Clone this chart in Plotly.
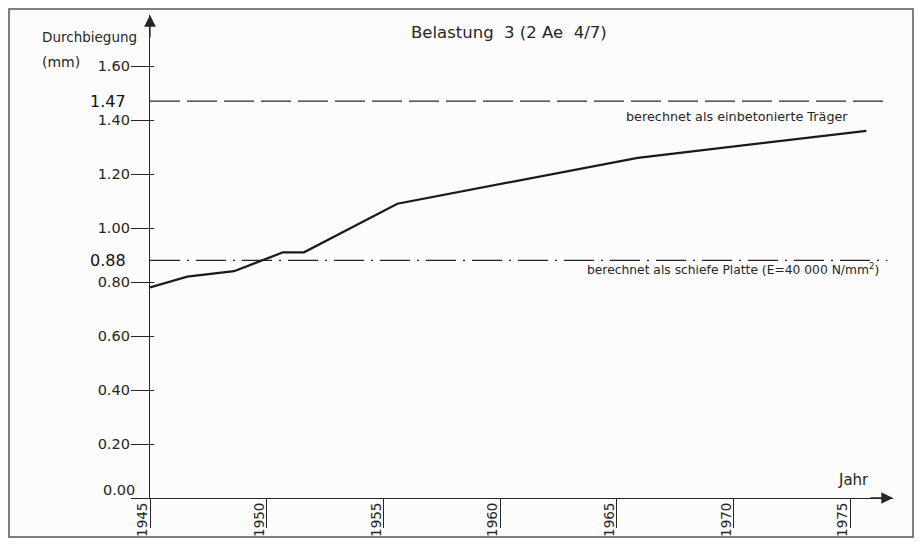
import plotly.graph_objects as go

# ---- data ----
years = [1945.0, 1946.6, 1948.6, 1950.7, 1951.6, 1955.6, 1965.9, 1975.7]
deflection = [0.78, 0.82, 0.84, 0.91, 0.91, 1.09, 1.26, 1.36]

ref_years = [1945.0, 1976.6]
beam_value = 1.47      # berechnet als einbetonierte Träger
plate_value = 0.88     # berechnet als schiefe Platte

y_ticks = [0.0, 0.2, 0.4, 0.6, 0.8, 1.0, 1.2, 1.4, 1.6]
y_ticktext = ["", "0.20", "0.40", "0.60", "0.80", "1.00", "1.20", "1.40", "1.60"]
x_ticks = [1945, 1950, 1955, 1960, 1965, 1970, 1975]
x_ticktext = ["1945", "1950", "1955", "1960", "1965", "1970", "1975"]

# ---- layout geometry ----
# The page body adds an 8px margin, so the figure is drawn 8px in from the window corner.
OFF = 8
W, H = 922 - 2 * OFF, 546 - 2 * OFF
# plot-area edges in window pixels
PL, PR, PT, PB = 150, 893, 15, 498
X_RANGE = [1945.0, 1976.84]
Y_RANGE = [0.0, 1.789]

def fx(px):
    return (px - PL) / (PR - PL)

def fy(py):
    return (PB - py) / (PB - PT)

INK = "#262626"
FONT = "DejaVu Sans"

fig = go.Figure()

fig.add_trace(go.Scatter(
    x=ref_years, y=[beam_value, beam_value], mode="lines",
    line=dict(color=INK, width=1.4, dash="30px,7px"),
    hoverinfo="skip", showlegend=False))
fig.add_trace(go.Scatter(
    x=ref_years, y=[plate_value, plate_value], mode="lines",
    line=dict(color=INK, width=1.4, dash="30px,7px,2px,7px"),
    hoverinfo="skip", showlegend=False))
fig.add_trace(go.Scatter(
    x=years, y=deflection, mode="lines",
    line=dict(color="#1a1a1a", width=2.2),
    showlegend=False))

annotations = [
    dict(text="Belastung\u00a0\u00a03\u00a0(2\u00a0Ae\u00a0\u00a04/7)", xref="paper", yref="paper",
         x=fx(509), y=fy(33), xanchor="center", yanchor="middle",
         showarrow=False, font=dict(size=16.5, color=INK, family=FONT)),
    dict(text="Durchbiegung", xref="paper", yref="paper",
         x=fx(40), y=fy(37), xanchor="left", yanchor="middle",
         showarrow=False, font=dict(size=13.5, color=INK, family=FONT)),
    dict(text="(mm)", xref="paper", yref="paper",
         x=fx(40), y=fy(62), xanchor="left", yanchor="middle",
         showarrow=False, font=dict(size=14, color=INK, family=FONT)),
    dict(text="Jahr", xref="paper", yref="y",
         x=fx(871), y=0, yshift=18, xanchor="right", yanchor="middle",
         showarrow=False, font=dict(size=15, color=INK, family=FONT)),
    dict(text="0.00", xref="paper", yref="y",
         x=fx(137), y=0, yshift=8, xanchor="right", yanchor="middle",
         showarrow=False, font=dict(size=14.5, color=INK, family=FONT)),
    dict(text="1.47", xref="paper", yref="y",
         x=fx(128), y=beam_value, xanchor="right", yanchor="middle",
         showarrow=False, font=dict(size=16, color="#111", family=FONT)),
    dict(text="0.88", xref="paper", yref="y",
         x=fx(128), y=plate_value, xanchor="right", yanchor="middle",
         showarrow=False, font=dict(size=16, color="#111", family=FONT)),
    dict(text="berechnet als einbetonierte Träger", xref="paper", yref="y",
         x=fx(737), y=beam_value, yshift=-15, xanchor="center", yanchor="middle",
         showarrow=False, font=dict(size=12.8, color=INK, family=FONT)),
    dict(text="berechnet als schiefe Platte (E=40 000 N/mm<sup>2</sup>)", xref="paper", yref="y",
         x=fx(733), y=plate_value, yshift=-9, xanchor="center", yanchor="middle",
         showarrow=False, font=dict(size=12.3, color=INK, family=FONT)),
    # axis arrowheads
    dict(text="", xref="paper", yref="paper", x=0, y=1, ax=0, ay=24,
         showarrow=True, arrowhead=2, arrowsize=1.8, arrowwidth=1.3,
         arrowcolor=INK, standoff=0),
    dict(text="", xref="paper", yref="paper", x=1, y=0, ax=-24, ay=0,
         showarrow=True, arrowhead=2, arrowsize=1.8, arrowwidth=1.3,
         arrowcolor=INK, standoff=0),
]

shapes = [
    dict(type="rect", xref="paper", yref="paper",
         x0=fx(9), x1=fx(913), y0=fy(537), y1=fy(9),
         line=dict(color="#555", width=1.5), fillcolor="rgba(0,0,0,0)", layer="below"),
]

fig.update_layout(
    width=W, height=H,
    margin=dict(l=PL - OFF, r=(W + OFF) - PR, t=PT - OFF, b=(H + OFF) - PB, pad=0, autoexpand=False),
    paper_bgcolor="#fcfcfc", plot_bgcolor="#fcfcfc",
    showlegend=False,
    annotations=annotations,
    shapes=shapes,
    xaxis=dict(
        range=X_RANGE, showgrid=False, zeroline=False, automargin=False,
        showline=True, linecolor=INK, linewidth=1.3,
        ticks="outside", ticklen=29, tickwidth=1.3, tickcolor=INK,
        tickvals=x_ticks, ticktext=x_ticktext, tickangle=-90,
        ticklabelstandoff=-31, ticklabelshift=-7,
        tickfont=dict(size=13.5, color=INK, family=FONT),
    ),
    yaxis=dict(
        range=Y_RANGE, showgrid=False, zeroline=False, automargin=False,
        showline=True, linecolor=INK, linewidth=1.3,
        ticks="outside", ticklen=18, tickwidth=1.3, tickcolor=INK,
        tickvals=y_ticks, ticktext=y_ticktext,
        ticklabelstandoff=-2,
        tickfont=dict(size=14.5, color=INK, family=FONT),
        minor=dict(ticks="inside", ticklen=4, tickwidth=1.3, tickcolor=INK,
                   tickvals=y_ticks[1:], showgrid=False),
    ),
)

fig.write_html("out.html")
